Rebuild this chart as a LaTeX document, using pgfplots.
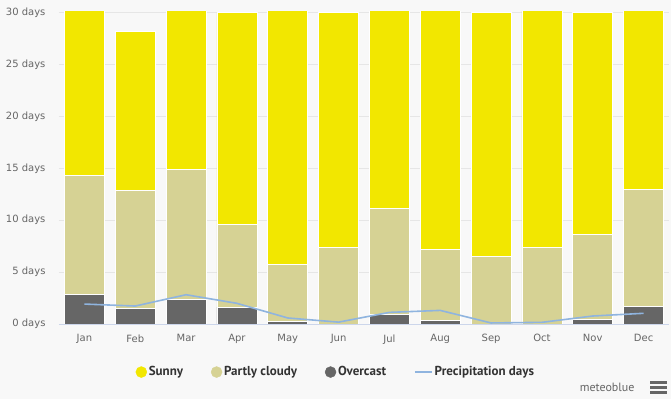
\documentclass[border=0pt]{standalone}
\usepackage{pgfplots}
\pgfplotsset{compat=1.18}
\usepackage{pgfplotstable}
\usepackage{fontspec}
\setmainfont{DejaVu Sans}
\newfontfamily\legfont{PT Sans}
\definecolor{bg}{HTML}{F8F8F8}
\definecolor{sunny}{HTML}{F2E700}
\definecolor{partly}{HTML}{D6D294}
\definecolor{overcast}{HTML}{666666}
\definecolor{precip}{HTML}{8FB4DF}
\definecolor{gridc}{HTML}{E6E6E6}
\definecolor{axc}{HTML}{CCD6EB}
\definecolor{tickc}{HTML}{666666}
\definecolor{legc}{HTML}{333333}
\pgfplotstableread{
m ov pc sun pr
0 2.82 11.48 16.70 1.92
1 1.47 11.38 15.35 1.73
2 2.34 12.53 16.13 2.82
3 1.63 7.95 20.42 1.99
4 0.23 5.51 25.26 0.58
5 0.00 7.37 22.63 0.18
6 0.93 10.19 19.88 1.12
7 0.35 6.83 23.82 1.31
8 0.00 6.50 23.50 0.10
9 0.00 7.37 23.63 0.16
10 0.42 8.23 21.35 0.77
11 1.67 11.28 18.05 1.03
}\datatable
\begin{document}
\begin{tikzpicture}[x=1pt,y=1pt]
\fill[bg] (0,0) rectangle (671,399);
\pgfplotsset{
  base/.style={
    at={(59pt,75pt)}, anchor=south west,
    scale only axis, width=610pt, height=312pt,
    xmin=-0.5, xmax=11.5, ymin=0, ymax=30.05,
  }
}
\begin{axis}[base,
  ybar stacked, bar width=40pt,
  axis line style={draw=none},
  axis x line*=bottom,
  ymajorgrids, grid style={gridc, line width=0.8pt},
  major tick length=0pt,
  xtick=data,
  xticklabels={Jan,Feb,Mar,Apr,May,Jun,Jul,Aug,Sep,Oct,Nov,Dec},
  ytick={0,5,10,15,20,25,30},
  yticklabels={0 days,5 days,10 days,15 days,20 days,25 days,30 days},
  ticklabel style={font=\fontsize{10}{12}\selectfont, text=tickc},
  yticklabel style={xshift=-10pt},
  xticklabel style={yshift=-7pt},
]
\addplot[fill=overcast, draw=white, line width=0.8pt] table[x=m,y=ov]{\datatable};
\addplot[fill=partly, draw=white, line width=0.8pt] table[x=m,y=pc]{\datatable};
\addplot[fill=sunny, draw=white, line width=0.8pt] table[x=m,y=sun]{\datatable};
\end{axis}
\draw[axc, line width=0.8pt] (59,75) -- (669,75);
\begin{axis}[base,
  axis lines=none, ticks=none,
  legend style={at={(0.454,-0.154)}, anchor=center, draw=none, fill=none,
    font=\legfont\bfseries\fontsize{13}{15}\selectfont, text=legc,
    legend columns=4, /tikz/every even column/.append style={column sep=26pt},
    legend cell align=left},
]
\addlegendimage{only marks, mark=*, mark size=5.5pt, color=sunny}
\addlegendentry{Sunny}
\addlegendimage{only marks, mark=*, mark size=5.5pt, color=partly}
\addlegendentry{Partly cloudy}
\addlegendimage{only marks, mark=*, mark size=5.5pt, color=overcast}
\addlegendentry{Overcast}
\addplot[precip, line width=1.6pt, mark=none] table[x=m,y=pr]{\datatable};
\addlegendentry{Precipitation days}
\end{axis}
\node[anchor=east, text=tickc, font=\legfont\fontsize{12}{14}\selectfont] at (638,12) {meteoblue};
\fill[overcast] (650,15.5) rectangle (667,18);
\fill[overcast] (650,10.5) rectangle (667,13);
\fill[overcast] (650,5.5) rectangle (667,8);
\end{tikzpicture}
\end{document}
